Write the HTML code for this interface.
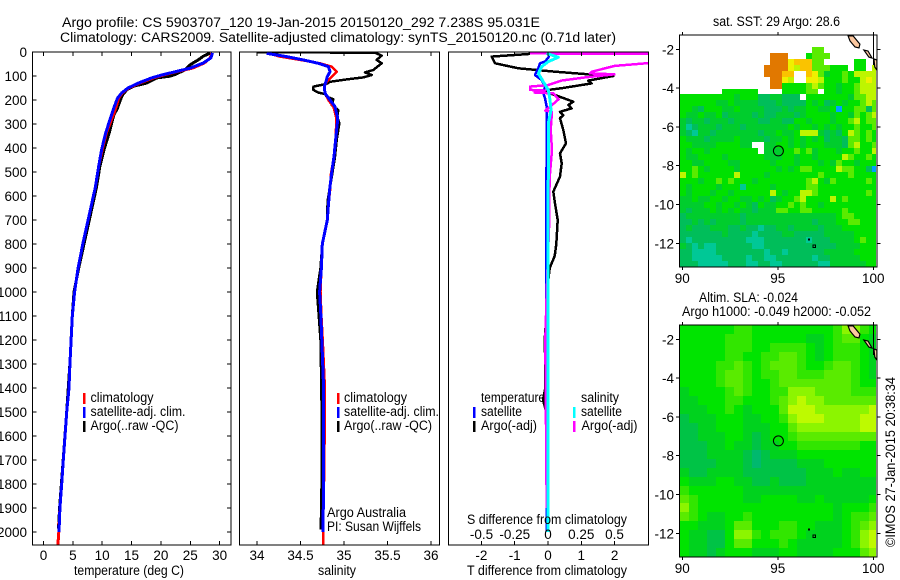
<!DOCTYPE html>
<html>
<head>
<meta charset="utf-8">
<title>Argo profile</title>
<style>
html,body{margin:0;padding:0;background:#fff;}
svg{display:block;}
text{font-family:"Liberation Sans",sans-serif;font-size:13.5px;fill:#000;}
</style>
</head>
<body>
<svg id="chart" xmlns="http://www.w3.org/2000/svg" width="900" height="580" viewBox="0 0 900 580">
<defs>
<clipPath id="clip-temp"><rect x="32" y="52" width="199" height="493"/></clipPath>
<clipPath id="clip-sal"><rect x="239" y="52" width="200" height="493"/></clipPath>
<clipPath id="clip-diff"><rect x="448" y="52" width="200" height="493"/></clipPath>
<clipPath id="clip-map1"><rect x="679" y="35" width="198" height="232"/></clipPath>
<clipPath id="clip-map2"><rect x="679" y="325" width="198" height="232"/></clipPath>
</defs>
</svg>
<script>
// ---- axis tick values ----
const depthTicks=[0,100,200,300,400,500,600,700,800,900,1000,1100,1200,1300,1400,1500,1600,1700,1800,1900,2000];
const tempTicks=[0,5,10,15,20,25,30];
const salTicks=[34,34.5,35,35.5,36];
const salTickLabels=["34","34.5","35","35.5","36"];
const tDiffTicks=[-2,-1,0,1,2];
const tDiffTickLabels=["-2","-1","0","1","2"];
const sDiffTicks=[-0.5,-0.25,0,0.25,0.5];
const sDiffTickLabels=["-0.5","-0.25","0","0.25","0.5"];
const latTicks=[-2,-4,-6,-8,-10,-12];
const lonTicks=[90,95,100];

// ---- temperature panel ----
const climDepth=[4,25,46,67,81,94,108,129,150,171,192,226,261,337,407,476,567,600,700,800,900,1000,1100,1200,1300,1400,1500,1600,1700,1800,1900,2000,2054];
const climTemp=[28.7,28.4,27.4,25.4,22.9,20.7,18.7,16.4,14.5,13.4,12.8,12.4,11.9,10.7,10,9.4,8.8,8.5,7.6,6.7,5.9,5.3,4.9,4.7,4.5,4.35,3.95,3.66,3.38,3.1,2.8,2.6,2.45];
const satDepthT=[4,25,46,67,81,94,108,129,150,171,192,226,261,337,407,476,567,600,700,800,900,1000,1100,1200,1300,1400,1500,1600,1700,1800,1900,2000];
const satTemp=[28.8,28.5,27.2,25,22.7,20.4,18.4,16.2,14.4,13.3,12.6,12.1,11.6,10.6,9.9,9.4,8.8,8.5,7.6,6.7,5.9,5.3,4.9,4.7,4.5,4.34,3.95,3.66,3.38,3.1,2.8,2.64];
const argoDepthT=[4,18,32,53,74,94,101,108,129,143,157,178,199,240,261,337,407,476,567,700,800,900,1000,1100,1300,1500,1700,1900,1985];
const argoTemp=[28.4,27.2,26.4,25,24.1,22.4,21.5,19.3,17.6,15.3,14.2,13.5,13.1,12.5,12,11.2,10.3,9.6,9,7.8,6.9,6,5.2,4.9,4.5,3.95,3.35,2.75,2.55];

// ---- salinity panel ----
const climDepthS=[6,19,33,47,61,82,103,124,144,172,200,228,269,297,367,436,506,575,644,700,800,900,1000,1100,1200,1400,1700,2000,2054];
const climSal=[34.13,34.264,34.494,34.724,34.858,34.916,34.858,34.8,34.774,34.782,34.82,34.878,34.908,34.91,34.904,34.885,34.85,34.84,34.82,34.805,34.75,34.74,34.73,34.74,34.755,34.78,34.775,34.76,34.76];
const satDepthS=[6,19,33,47,61,82,103,124,144,172,200,228,269,297,367,436,506,575,644,700,800,900,1000,1100,1200,1400,1700,2000];
const satSal=[34.111,34.341,34.532,34.705,34.82,34.839,34.808,34.793,34.774,34.782,34.839,34.897,34.923,34.923,34.904,34.885,34.858,34.835,34.82,34.808,34.75,34.74,34.72,34.735,34.745,34.765,34.765,34.76];
const argoDepthS=[1,3,6,15,33,47,75,85,96,106,114,124,133,144,158,169,175,186,197,221,242,269,297,367,436,478,547,617,700,800,900,1000,1100,1200,1400,1600,1900,1990];
const argoSal=[33.996,35.375,35.375,35.433,35.375,35.433,35.337,35.241,35.318,35.222,35.03,34.839,34.8,34.648,34.648,34.705,34.782,34.8,34.878,34.858,34.935,34.923,34.946,34.916,34.897,34.878,34.847,34.813,34.805,34.75,34.73,34.69,34.71,34.73,34.74,34.745,34.74,34.73];

// ---- difference panel ----
const argoDepthDT=[8,19,47,68,82,93,100,119,131,151,158,165,179,207,221,235,249,263,276,325,381,422,464,519,582,631,700,800,850,900,1000,1100,1200,1300,1400,1450,1500,1700,2000];
const argoDiffT=[-0.54,-1.69,-1.59,-0.89,0.21,1.21,1.96,1.21,1.31,0.41,0.01,-0.14,0.21,0.76,0.61,0.71,0.36,0.46,0.36,0.46,0.54,0.36,0.41,0.36,0.16,0.21,0.29,0.25,0.2,0.05,-0.03,-0.05,-0.1,-0.08,-0.08,-0.15,-0.05,-0.05,0];
const satDepthDT=[6,19,40,47,68,96,117,144,172,193,228,283,700,1400,2000];
const satDiffT=[0.01,0.03,-0.09,-0.24,-0.29,-0.39,-0.19,-0.09,-0.14,-0.09,-0.04,-0.04,-0.05,-0.04,-0.03];
const argoDepthDS=[6,8,44,58,82,89,93,106,119,138,144,158,161,169,172,197,221,244,249,325,408,506,589,700,1000,1200,1900];
const argoDiffS=[-0.135,0.8,0.8,0.5,0.33,0.315,0.5,0.28,0.1,0,-0.135,-0.135,-0.02,-0.1,0.04,0.08,0.03,-0.02,0.03,0.02,0.03,0.015,0.01,0.01,-0.01,-0.02,-0.01];
const satDepthDS=[6,22,40,61,89,124,158,200,242,297,506,700,2000];
const satDiffS=[-0.01,0.0775,0.0025,-0.0475,-0.0725,-0.035,0.0025,0.015,0.0225,0.0025,0.0025,0,0];

// ---- sea surface temperature map: colour level per cell, rows north to south; 9 = no data ----
const sstLevels=[
[9,9,9,9,9,9,9,9,9,9,9,9,9,9,9,9,9,9,9,9,9,9,9,9,9,9,9,9,9,9,9,9,9],
[9,9,9,9,9,9,9,9,9,9,9,9,9,9,9,9,9,9,9,9,9,9,9,9,9,9,9,9,9,9,9,9,9],
[9,9,9,9,9,9,9,9,9,9,9,9,9,9,9,9,9,9,9,9,9,9,4,4,9,9,9,9,9,9,9,9,9],
[9,9,9,9,9,9,9,9,9,9,9,9,9,9,9,8,8,8,9,9,9,3,4,4,4,9,9,9,9,9,9,9,9],
[9,9,9,9,9,9,9,9,9,9,9,9,9,9,9,8,8,8,6,7,7,7,4,4,9,9,9,9,9,3,3,9,9],
[9,9,9,9,9,9,9,9,9,9,9,9,9,9,8,8,8,8,6,5,7,7,4,4,4,3,3,3,9,3,3,9,5],
[9,9,9,9,9,9,9,9,9,9,9,9,9,9,8,8,8,7,7,9,9,7,6,4,2,3,3,4,3,5,5,5,5],
[9,9,9,9,9,9,9,9,9,9,9,9,9,9,9,8,8,6,5,9,9,6,6,5,3,3,3,4,3,3,5,6,5],
[9,9,9,9,9,9,9,9,9,9,9,9,9,9,9,8,8,3,3,3,3,4,5,4,3,3,2,3,3,4,5,5,5],
[9,9,9,9,9,9,9,3,3,3,3,3,3,9,9,9,9,3,3,3,3,4,4,9,3,3,2,3,3,4,5,5,5],
[3,3,3,3,3,3,3,3,3,2,3,3,3,1,1,2,2,1,1,1,9,3,3,3,3,3,3,3,2,4,4,5,5],
[3,3,3,3,3,3,2,2,3,2,2,2,2,1,1,1,2,1,1,1,1,3,2,3,1,2,3,2,3,3,4,5,4],
[3,3,2,1,3,3,3,2,2,3,2,2,2,2,1,1,1,2,1,2,2,3,3,2,2,3,10,3,3,4,4,1,4],
[3,2,2,3,2,2,3,1,2,2,2,2,1,2,1,1,2,2,2,1,2,3,3,3,3,2,3,3,2,4,3,4,5],
[2,1,2,2,1,2,2,2,1,2,2,2,2,1,1,2,2,1,1,3,3,2,3,3,3,2,3,3,4,5,3,4,4],
[2,0,1,2,2,2,1,2,2,2,1,2,2,2,2,2,2,2,3,2,3,3,2,3,2,3,2,3,3,4,3,3,4],
[2,1,0,2,2,1,2,2,2,2,2,2,2,1,2,2,3,2,2,3,5,5,5,2,1,2,1,3,5,4,3,4,3],
[3,2,2,2,1,2,2,2,2,3,2,2,2,2,1,2,2,3,2,3,2,3,2,3,1,2,2,1,4,4,3,4,3],
[3,3,2,2,2,2,3,3,3,3,2,2,9,9,2,2,3,3,2,3,2,3,3,3,2,2,2,1,4,5,3,3,4],
[3,2,3,3,2,3,3,3,3,3,3,3,3,9,2,2,2,3,3,4,3,4,2,3,3,3,2,3,3,4,3,3,5],
[3,2,2,3,3,3,3,2,3,3,3,3,3,3,2,2,2,3,3,2,3,3,2,3,3,3,3,5,4,3,3,4,3],
[3,3,2,2,3,3,3,3,2,2,3,3,3,3,3,2,3,3,3,2,3,3,3,2,3,2,4,3,3,2,3,3,3],
[3,3,4,3,2,3,3,3,3,2,3,3,3,3,3,3,2,3,2,3,4,4,3,3,3,3,5,4,4,3,3,1,10],
[5,3,4,3,3,3,3,3,3,5,3,3,3,3,2,3,3,3,3,3,3,3,3,4,3,3,3,3,4,3,3,3,3],
[3,3,3,2,3,3,4,3,4,3,3,3,2,3,3,3,3,3,3,3,3,4,5,3,2,4,3,3,3,3,3,4,3],
[3,2,3,3,3,3,2,3,3,3,0,3,3,3,3,2,3,3,3,3,3,4,4,3,3,3,3,3,3,3,3,3,3],
[3,2,3,3,3,2,3,3,2,3,3,3,3,3,3,5,3,2,3,3,5,5,4,3,3,3,3,3,3,3,3,4,3],
[2,2,3,2,2,3,3,2,3,3,2,2,3,2,3,1,2,3,3,4,5,3,3,3,3,5,3,4,3,3,3,3,3],
[2,2,2,2,3,3,2,3,3,2,3,2,1,3,2,2,3,3,4,3,4,3,3,2,3,3,3,3,3,3,3,3,3],
[2,1,2,2,2,3,2,3,2,3,2,2,1,2,2,2,4,4,3,3,4,4,3,3,3,3,3,4,3,3,3,3,3],
[1,2,2,2,2,2,2,2,2,2,1,2,2,2,2,2,2,2,2,2,2,2,2,2,2,2,3,4,4,3,3,3,3],
[1,1,2,1,2,1,2,2,2,2,1,2,2,2,2,2,2,2,2,2,2,2,1,2,2,2,3,3,4,4,3,3,3],
[1,2,1,1,1,2,2,2,1,1,2,1,1,0,1,1,2,2,1,2,2,2,2,1,2,2,2,3,3,3,3,3,3],
[1,1,1,1,1,1,1,2,1,1,1,1,0,1,1,1,1,2,2,1,1,1,1,1,2,2,2,2,2,3,3,3,3],
[1,0,1,1,1,1,1,1,1,1,1,0,0,0,1,1,1,1,1,1,1,0,1,1,1,2,2,2,2,3,4,3,3],
[2,1,0,1,0,0,1,1,1,1,1,1,0,0,1,1,1,1,1,1,1,1,1,1,1,1,2,2,2,2,3,3,3],
[1,1,0,0,0,0,1,1,1,1,1,1,1,1,0,1,1,0,1,1,1,1,1,1,2,2,2,2,2,3,3,3,3],
[1,1,0,0,0,0,0,1,1,1,1,0,1,1,0,0,1,1,1,1,1,1,0,1,1,2,2,2,2,2,3,3,3],
[1,1,1,0,0,0,0,0,1,1,1,0,0,1,1,0,0,1,1,1,1,1,1,0,0,2,2,2,2,2,2,3,3]
];

// ---- sea level anomaly map: colour level per cell, rows north to south ----
const slaLevels=[
[3,3,3,3,3,3,4,4,3,3,3,3,3,3,3,3,3,4,6,6,4,3],
[3,3,3,3,3,4,4,4,3,3,3,3,3,3,2,2,3,4,5,5,3,2],
[3,3,3,3,3,4,4,4,3,3,4,4,4,4,3,2,3,4,4,4,3,2],
[3,3,3,3,3,4,4,3,3,4,4,5,5,4,3,2,3,4,4,4,3,2],
[3,3,3,3,4,4,5,4,3,4,5,5,5,4,3,3,4,5,5,4,3,2],
[3,3,3,3,4,5,5,4,3,4,4,5,5,4,4,4,5,5,5,4,3,2],
[3,3,3,3,4,5,5,4,3,3,4,5,5,5,5,5,5,5,5,4,3,3],
[2,3,3,3,3,4,5,4,3,3,4,4,6,6,6,5,5,5,5,4,4,4],
[2,2,3,3,3,4,4,3,3,3,4,5,6,7,6,6,5,5,5,5,5,5],
[2,2,2,3,3,4,3,2,3,3,3,5,7,7,7,6,6,6,6,6,6,7],
[1,2,2,2,3,3,3,2,2,3,3,4,6,7,7,7,6,6,6,6,7,7],
[1,1,2,2,3,3,3,2,2,2,3,3,5,6,6,6,6,6,6,6,7,7],
[1,1,2,2,2,3,3,2,1,2,3,3,4,5,5,5,5,5,5,5,5,5],
[1,1,1,2,2,3,2,2,1,2,2,3,3,4,4,4,4,4,4,4,3,3],
[1,1,1,2,2,2,2,1,0,1,2,2,2,3,3,3,3,3,3,3,3,3],
[1,1,1,1,2,2,2,1,0,1,1,1,1,2,2,2,3,3,3,3,3,3],
[2,1,1,2,2,2,2,1,1,1,1,1,1,1,2,2,2,3,2,2,3,3],
[3,2,2,2,3,3,2,2,1,1,2,1,1,1,2,2,2,2,2,2,2,2],
[4,3,3,3,3,3,3,2,2,2,2,2,2,2,2,2,2,2,2,2,2,2],
[5,4,3,3,3,3,3,2,2,3,3,3,3,2,2,3,2,2,2,2,2,3],
[6,4,3,3,3,3,3,3,3,3,3,3,3,3,3,3,3,2,3,3,3,4],
[5,4,3,2,2,3,3,4,3,3,3,3,3,3,3,3,3,2,3,4,4,5],
[3,3,2,2,2,3,5,5,3,3,3,4,4,3,3,2,2,2,3,4,5,6],
[3,2,2,1,1,3,6,6,4,3,4,4,4,3,2,2,2,2,3,4,6,7],
[3,2,2,1,1,3,5,5,3,3,3,4,3,2,2,2,2,2,3,4,6,7],
[3,2,2,1,2,3,3,3,2,2,2,3,3,2,2,2,2,3,3,3,5,6]
];

// ---- map overlays ----
const floatLon=[95.031];
const floatLat=[-7.238];
const coastALon=[98.68,98.94,99.3,99.25,99.04,98.78];
const coastALat=[-1.31,-1.31,-1.73,-1.93,-1.88,-1.57];
const coastBLon=[99.51,99.72,99.93,99.77];
const coastBLat=[-2.04,-2.09,-2.45,-2.4];
const coastCLon=[100.03,100.19,100.19,100.08];
const coastCLat=[-2.5,-2.55,-3.07,-2.91];
const isletLon=[96.6,96.84];
const isletLat=[-11.78,-12.09];

const sstColors=["#00c896","#00be5a","#00cd2d","#00e100","#5aeb00","#bef500","#f0f000","#fac300","#e17800","none","#00a0ff"];
const slaColors=["#00b96e","#00c346","#00d21e","#00e400","#32e600","#5aeb00","#8cf500","#befa00"];

const NS="http://www.w3.org/2000/svg";
const svg=document.getElementById('chart');

function make(tag,attrs,name,parent){
  const el=document.createElementNS(NS,tag);
  for(const k in attrs){el.setAttribute(k,attrs[k]);}
  
  
  (parent||svg).appendChild(el);
  return el;
}
function group(name,clip){
  const attrs=clip?{'clip-path':'url(#'+clip+')'}:{};
  return make('g',attrs,name);
}
function label(str,x,y,name,opts,parent){
  opts=opts||{};
  const attrs={x:x,y:y};
  if(opts.anchor){attrs['text-anchor']=opts.anchor;}
  if(opts.width){attrs['textLength']=opts.width;attrs['lengthAdjust']='spacingAndGlyphs';}
  if(opts.transform){attrs['transform']=opts.transform;}
  const el=make('text',attrs,name,parent);
  el.textContent=str;
  return el;
}
function rule(x1,y1,x2,y2,name,parent,color,w){
  return make('line',{x1:x1,y1:y1,x2:x2,y2:y2,stroke:color||'#000','stroke-width':w||1,'shape-rendering':'crispEdges'},name,parent);
}
function box(x,y,w,h,name,parent){
  return make('rect',{x:x,y:y,width:w,height:h,fill:'none',stroke:'#000','stroke-width':1.3,'shape-rendering':'crispEdges'},name,parent);
}

// axis functions
const yDepth=d=>52+0.24*d;
const xTemp=t=>43.5+5.87*t;
const xSal=s=>257+87*(s-34);
const xDT=v=>548+33.3*v;
const xDS=v=>548+133*v;
const xLon=lon=>682.3+19.1*(lon-90);
const yLat1=lat=>49.3-19.4*(lat+2);
const yLat2=lat=>339.3-19.4*(lat+2);

function series(vals,depths,xf,color,w,name,parent){
  const pts=vals.map((v,i)=>xf(v).toFixed(1)+','+yDepth(depths[i]).toFixed(1)).join(' ');
  return make('polyline',{points:pts,fill:'none',stroke:color,'stroke-width':w,'stroke-linejoin':'round','shape-rendering':'crispEdges'},name,parent);
}

// titles
label('Argo profile: CS 5903707_120 19-Jan-2015 20150120_292 7.238S 95.031E',62,27,'figure-title-line-1',{width:478});
label('Climatology: CARS2009. Satellite-adjusted climatology: synTS_20150120.nc (0.71d later)',60,42,'figure-title-line-2',{width:556});

// temperature panel
const gTemp=group('temperature-profile-lines','clip-temp');
series(argoTemp,argoDepthT,xTemp,'#000',3,'temperature-argo-line',gTemp);
series(climTemp,climDepth,xTemp,'#f00',3,'temperature-climatology-line',gTemp);
series(satTemp,satDepthT,xTemp,'#00f',3,'temperature-satellite-line',gTemp);
const gTempAxes=group('temperature-axes');
box(32.5,52,198.5,493,'temperature-plot-frame',gTempAxes);
depthTicks.forEach(d=>{
  const y=yDepth(d);
  label(String(d),27,y+5,'depth-tick-label',{anchor:'end'},gTempAxes);
  rule(32.5,y,36.5,y,'depth-tick-left',gTempAxes);
  rule(227,y,231,y,'depth-tick-right',gTempAxes);
});
tempTicks.forEach(t=>{
  const x=xTemp(t);
  rule(x,52,x,56,'temperature-tick-top',gTempAxes);
  rule(x,541,x,545,'temperature-tick-bottom',gTempAxes);
  label(String(t),x,560,'temperature-tick-label',{anchor:'middle'},gTempAxes);
});
label('temperature (deg C)',74,575,'temperature-axis-title',{width:110},gTempAxes);

// salinity panel
const gSal=group('salinity-profile-lines','clip-sal');
series(argoSal,argoDepthS,xSal,'#000',2.5,'salinity-argo-line',gSal);
series(climSal,climDepthS,xSal,'#f00',2.5,'salinity-climatology-line',gSal);
series(satSal,satDepthS,xSal,'#00f',3,'salinity-satellite-line',gSal);
const gSalAxes=group('salinity-axes');
box(239.5,52,200,493,'salinity-plot-frame',gSalAxes);
salTicks.forEach((s,i)=>{
  const x=xSal(s);
  rule(x,52,x,56,'salinity-tick-top',gSalAxes);
  rule(x,541,x,545,'salinity-tick-bottom',gSalAxes);
  label(salTickLabels[i],x,560,'salinity-tick-label',{anchor:'middle'},gSalAxes);
});
label('salinity',318,575,'salinity-axis-title',{width:38},gSalAxes);
label('Argo Australia',327,517,'argo-australia-note',{width:79},gSalAxes);
label('PI: Susan Wijffels',327,531,'principal-investigator-note',{width:94},gSalAxes);

// difference panel
const gDiff=group('difference-profile-lines','clip-diff');
series(argoDiffT,argoDepthDT,xDT,'#000',2.5,'temperature-argo-difference-line',gDiff);
series(satDiffT,satDepthDT,xDT,'#00f',2.5,'temperature-satellite-difference-line',gDiff);
series(argoDiffS,argoDepthDS,xDS,'#f0f',2.5,'salinity-argo-difference-line',gDiff);
series(satDiffS,satDepthDS,xDS,'#0ff',3,'salinity-satellite-difference-line',gDiff);
const gDiffAxes=group('difference-axes');
box(448.5,52,200,493,'difference-plot-frame',gDiffAxes);
tDiffTicks.forEach((v,i)=>{
  const x=xDT(v);
  rule(x,52,x,56,'difference-tick-top',gDiffAxes);
  rule(x,541,x,545,'difference-tick-bottom',gDiffAxes);
  label(tDiffTickLabels[i],x,560,'temperature-difference-tick-label',{anchor:'middle'},gDiffAxes);
});
sDiffTicks.forEach((v,i)=>{
  label(sDiffTickLabels[i],xDS(v),539,'salinity-difference-tick-label',{anchor:'middle'},gDiffAxes);
});
label('S difference from climatology',467,524,'salinity-difference-axis-title',{width:160},gDiffAxes);
label('T difference from climatology',467,575,'temperature-difference-axis-title',{width:160},gDiffAxes);

// legends
function legendEntry(x,y,color,str,tx,tw,name,parent){
  make('rect',{x:x-1,y:y-9,width:2.5,height:11,fill:color,'shape-rendering':'crispEdges'},name+'-swatch',parent);
  label(str,tx,y,name+'-label',{width:tw},parent);
}
const lg1=group('temperature-legend');
legendEntry(84,402,'#f00','climatology',90.5,63,'legend-climatology',lg1);
legendEntry(84,416,'#00f','satellite-adj. clim.',90.5,95,'legend-satellite',lg1);
legendEntry(84,430,'#000','Argo(..raw -QC)',90.5,88,'legend-argo',lg1);
const lg2=group('salinity-legend');
legendEntry(338,402,'#f00','climatology',344,63,'legend-climatology',lg2);
legendEntry(338,416,'#00f','satellite-adj. clim.',344,95,'legend-satellite',lg2);
legendEntry(338,430,'#000','Argo(..raw -QC)',344,88,'legend-argo',lg2);
const lg3=group('difference-legend');
label('temperature',481,402,'legend-temperature-heading',{width:64},lg3);
label('salinity',581,402,'legend-salinity-heading',{width:38},lg3);
legendEntry(474,416,'#00f','satellite',481,41,'legend-temperature-satellite',lg3);
legendEntry(474,430,'#000','Argo(-adj)',481,56,'legend-temperature-argo',lg3);
legendEntry(574,416,'#0ff','satellite',581,41,'legend-salinity-satellite',lg3);
legendEntry(574,430,'#f0f','Argo(-adj)',581.5,56,'legend-salinity-argo',lg3);

// maps
function heatmap(levels,colors,top,clip,name){
  const g=group(name,clip);
  const rows=levels.length;
  const cols=levels[0].length;
  const cw=198/cols;
  const ch=232/rows;
  levels.forEach((row,r)=>{
    row.forEach((v,c)=>{
      const fill=colors[v];
      if(!fill||fill==='none'){return;}
      const x0=Math.round(679.5+c*cw);
      const x1=Math.round(679.5+(c+1)*cw);
      const y0=Math.round(top+r*ch);
      const y1=Math.round(top+(r+1)*ch);
      make('rect',{x:x0,y:y0,width:Math.min(x1,876)-x0,height:y1-y0,fill:fill,'shape-rendering':'crispEdges'},name+'-cell',g);
    });
  });
  return g;
}
function polygonLL(lons,lats,yf,name,parent){
  const pts=lons.map((lon,i)=>xLon(lon).toFixed(1)+','+yf(lats[i]).toFixed(1)).join(' ');
  return make('polygon',{points:pts,fill:'#fcc8a0',stroke:'#000','stroke-width':1.2},name,parent);
}
function overlays(yf,top,clip,name){
  const g=group(name,clip);
  rule(xLon(100),top,xLon(100),yf(-2.8),'meridian-coast-line',g);
  polygonLL(coastALon,coastALat,yf,'coast-sumatra',g);
  polygonLL(coastBLon,coastBLat,yf,'coast-island',g);
  polygonLL(coastCLon,coastCLat,yf,'coast-sumatra-south',g);
  isletLon.forEach((lon,i)=>{
    make('rect',{x:xLon(lon).toFixed(1),y:yf(isletLat[i]).toFixed(1),width:i?2.5:1,height:i?2.5:1,fill:'none',stroke:'#000','stroke-width':0.8,'shape-rendering':'crispEdges'},'cocos-islet',g);
  });
  floatLon.forEach((lon,i)=>{
    make('circle',{cx:xLon(lon).toFixed(1),cy:yf(floatLat[i]).toFixed(1),r:5,fill:'none',stroke:'#000','stroke-width':1},'float-position-marker',g);
  });
}
function mapAxes(yf,top,bottom,labelY,name){
  const g=group(name);
  box(679.5,top,197.5,bottom-top,'map-frame',g);
  latTicks.forEach(lat=>{
    const y=yf(lat);
    rule(676,y,679.5,y,'latitude-tick-left',g);
    rule(877,y,880.5,y,'latitude-tick-right',g);
    label(String(lat),674,y+5,'latitude-tick-label',{anchor:'end'},g);
  });
  lonTicks.forEach(lon=>{
    const x=xLon(lon);
    rule(x,top-3,x,top,'longitude-tick-top',g);
    rule(x,bottom,x,bottom+3,'longitude-tick-bottom',g);
    label(String(lon),x,labelY,'longitude-tick-label',{anchor:'middle'},g);
  });
}
heatmap(sstLevels,sstColors,35,'clip-map1','sst-heatmap');
overlays(yLat1,35,'clip-map1','sst-map-overlays');
mapAxes(yLat1,35,267,283,'sst-map-axes');
label('sat. SST: 29 Argo: 28.6',713,26,'sst-map-title',{width:127});

heatmap(slaLevels,slaColors,325,'clip-map2','sla-heatmap');
overlays(yLat2,325,'clip-map2','sla-map-overlays');
mapAxes(yLat2,325,557,573,'sla-map-axes');
label('Altim. SLA: -0.024',699,302,'sla-map-title',{width:99});
label('Argo h1000: -0.049 h2000: -0.052',682,316,'steric-height-title',{width:189});

label('\u00A9IMOS 27-Jan-2015 20:38:34',0,0,'imos-credit',{width:170,transform:'translate(895,547) rotate(-90)'});
</script>
</body>
</html>
